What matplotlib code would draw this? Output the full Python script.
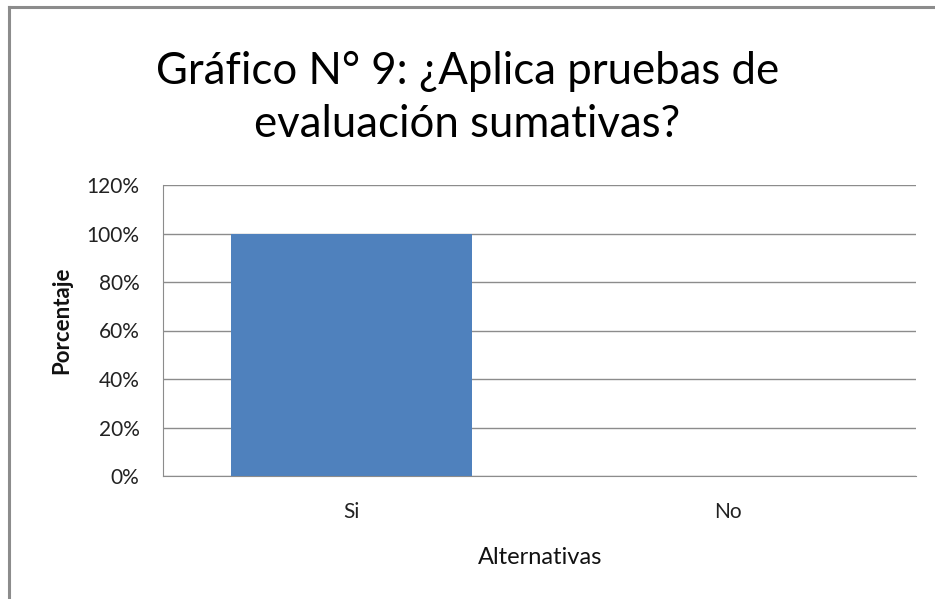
import matplotlib
matplotlib.use("Agg")
import matplotlib.pyplot as plt
from matplotlib.ticker import PercentFormatter
from matplotlib.lines import Line2D

categories = ["Si", "No"]
values = [100, 0]
yticks = [0, 20, 40, 60, 80, 100, 120]
title = "Gráfico N° 9: ¿Aplica pruebas de\nevaluación sumativas?"

plt.rcParams['font.family'] = ['Lato', 'DejaVu Sans']

W, H = 935, 599
fig = plt.figure(figsize=(W/100, H/100), dpi=100)
fig.patch.set_facecolor('white')
# outer border (left and top visible)
fig.add_artist(Line2D([9/W, 9/W], [0, 1-7/H], transform=fig.transFigure,
                      color='#8c8c8c', linewidth=2.2))
fig.add_artist(Line2D([9/W, 1], [1-7/H, 1-7/H], transform=fig.transFigure,
                      color='#8c8c8c', linewidth=2.2))

left, right, top, bottom = 163, 916, 185, 476
ax = fig.add_axes([left/W, 1-bottom/H, (right-left)/W, (bottom-top)/H])
x = list(range(len(categories)))
ax.bar(x, values, width=0.64, color='#4f81bd', zorder=3)
ax.set_xlim(-0.5, 1.5)
ax.set_ylim(0, 120)
ax.set_yticks(yticks)
ax.yaxis.set_major_formatter(PercentFormatter(decimals=0))
ax.set_xticks(x)
ax.set_xticklabels(categories)
ax.grid(axis='y', color='#8c8c8c', linewidth=1, zorder=0)
for s in ['top', 'right']:
    ax.spines[s].set_visible(False)
for s in ['left', 'bottom']:
    ax.spines[s].set_color('#8c8c8c')
ax.tick_params(axis='both', length=0, labelsize=15, colors='#222222')
ax.tick_params(axis='y', pad=17)
ax.tick_params(axis='x', pad=19)

fig.text(540/W, 1-557/H, "Alternativas", ha='center', va='center', fontsize=17, color='#111111')
fig.text(62/W, 1-320/H, "Porcentaje", ha='center', va='center', rotation=90,
         fontsize=16, fontweight='bold', color='#111111')

fig.text(0.5, 1-98/H, title, ha='center', va='center', fontsize=31.5, linespacing=1.35)

fig.savefig("out.png", dpi=100)
